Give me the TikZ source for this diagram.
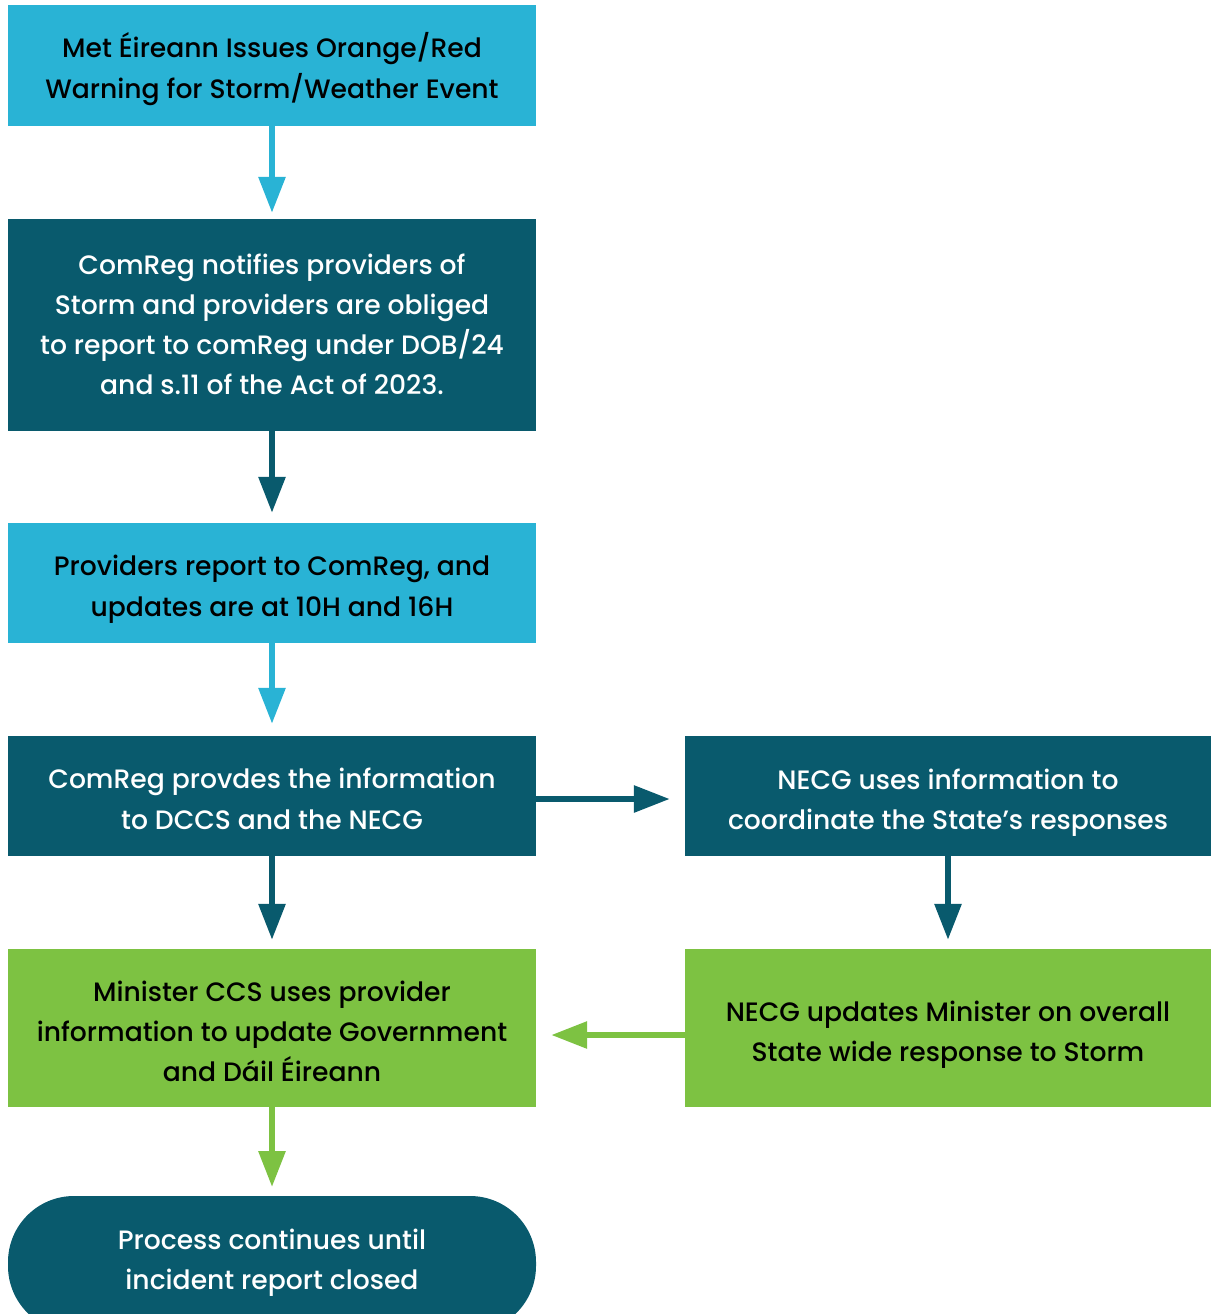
\documentclass[tikz,border=0pt]{standalone}
\usepackage{fontspec}
\setmainfont{Poppins}[UprightFont=* Medium]
\usetikzlibrary{arrows.meta,positioning}
\definecolor{lblue}{HTML}{29B3D5}
\definecolor{dteal}{HTML}{095A6D}
\definecolor{lgreen}{HTML}{7DC242}
\newcommand{\lsA}{\rule[-7pt]{0pt}{40pt}}
\newcommand{\lsB}{\rule[-11pt]{0pt}{40pt}}
\tikzset{
  box/.style={rectangle, inner sep=0pt, align=center, font=\fontsize{26.6}{40}\selectfont},
  lbox/.style={box, fill=lblue, text=black},
  dbox/.style={box, fill=dteal, text=white},
  gbox/.style={box, fill=lgreen, text=black},
  flow/.style={line width=6pt, -{Triangle[length=36pt,width=26pt]}},
}
\begin{document}
\begin{tikzpicture}[x=1pt,y=-1pt]
\useasboundingbox (0,0) rectangle (1211,1314);
\node[lbox, minimum width=528pt, minimum height=121pt] (b1) at (272,65.5)
  {\lsA Met Éireann Issues Orange/Red\\\lsA Warning for Storm/Weather Event};
\node[dbox, minimum width=528pt, minimum height=212pt] (b2) at (272,325)
  {\lsB ComReg notifies providers of\\Storm and providers are obliged\\to report to comReg under DOB/24\\\lsB and s.11 of the Act of 2023.};
\node[lbox, minimum width=528pt, minimum height=120pt] (b3) at (272,583)
  {\lsA Providers report to ComReg, and\\\lsA updates are at 10H and 16H};
\node[dbox, minimum width=528pt, minimum height=120pt] (b4) at (272,796)
  {\lsA ComReg provdes the information\\\lsA to DCCS and the NECG};
\node[dbox, minimum width=526pt, minimum height=120pt] (b5) at (948,796)
  {\lsA NECG uses information to\\\lsA coordinate the State’s responses};
\node[gbox, minimum width=528pt, minimum height=158pt] (b6) at (272,1028)
  {\lsA Minister CCS uses provider\\information to update Government\\\lsA and Dáil Éireann};
\node[gbox, minimum width=526pt, minimum height=158pt] (b7) at (948,1028)
  {\lsA NECG updates Minister on overall\\\lsA State wide response to Storm};
\fill[dteal, rounded corners=66pt] (8,1196) rectangle (536,1332);
\node[box, text=white] (b8) at (272,1256) {\lsA Process continues until\\\lsA incident report closed};
\coordinate (b8top) at (272,1196);
\draw[flow, lblue, shorten >=6pt] (b1.south) -- (b2.north);
\draw[flow, dteal, shorten >=10pt] (b2.south) -- (b3.north);
\draw[flow, lblue, shorten >=12pt] (b3.south) -- (b4.north);
\draw[flow, dteal, shorten >=15pt] ([yshift=-3pt]b4.east) -- ([yshift=-3pt]b4.east -| b5.west);
\draw[flow, dteal, shorten >=9pt] (b4.south) -- (b6.north);
\draw[flow, dteal, shorten >=9pt] (b5.south) -- (b7.north);
\draw[flow, lgreen, shorten >=15pt] ([yshift=-7pt]b7.west) -- ([yshift=-7pt]b6.east);
\draw[flow, lgreen, shorten >=9pt] (b6.south) -- (b8top);
\end{tikzpicture}
\end{document}
